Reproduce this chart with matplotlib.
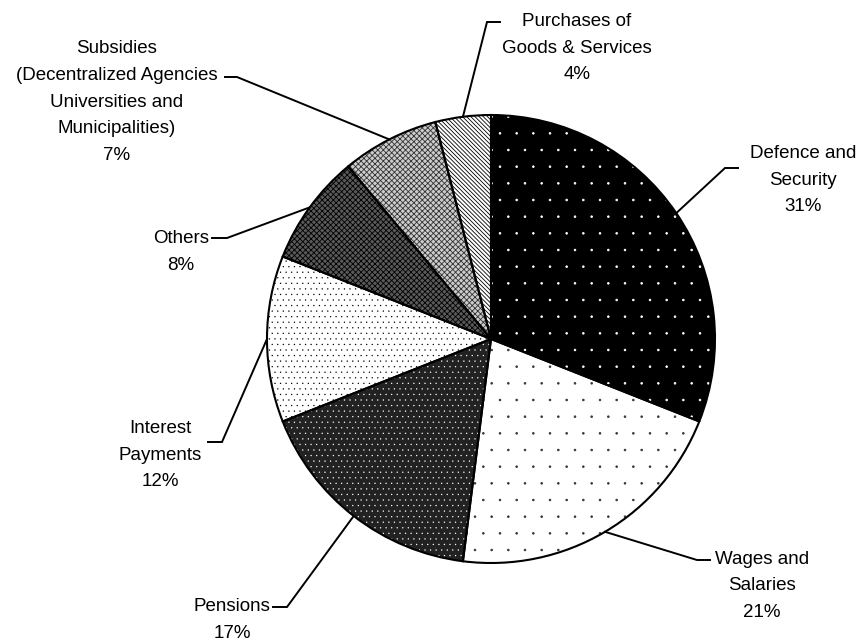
import numpy as np
import matplotlib
matplotlib.use("Agg")
import matplotlib.pyplot as plt
import matplotlib.hatch

# datos del grafico (porcentajes del gasto)
categorias = ["Defence and\nSecurity", "Wages and\nSalaries", "Pensions", "Interest\nPayments",
              "Others", "Subsidies\n(Decentralized Agencies\nUniversities and\nMunicipalities)",
              "Purchases of\nGoods & Services"]
valores = [31, 21, 17, 12, 8, 7, 4]

# estilos de relleno (imitando los patrones de Excel)
fondos = ["black", "white", "#222222", "white", "#5a5a5a", "#cccccc", "white"]
tramas = [".", ".", "...", "...", "xxxxxx", "xxxxxx", "\\" * 8]
color_trama = ["white", "#333333", "white", "black", "black", "#333333", "black"]

# posicion de etiquetas (pixeles, y hacia abajo): centro del texto, codo y fin de la guia
pos_texto = [(803, 180), (762, 586), (232, 620), (160, 455), (181, 252), (117, 102), (577, 48)]
codos = [(725, 168), (697, 560), (287, 607), (222, 442), (227, 238), (237, 77), (487, 22)]
fines = [(738, 168), (710, 560), (273, 607), (208, 442), (212, 238), (225, 77), (500, 22)]

W, H = 861, 644
cx, cy, r = 491, H - 339, 224

plt.rcParams['font.family'] = ['Liberation Sans', 'DejaVu Sans']
plt.rcParams['hatch.linewidth'] = 0.6
# puntos de la trama mas chicos, como en Excel
matplotlib.hatch.SmallFilledCircles.size = 0.05

fig = plt.figure(figsize=(W / 100, H / 100), dpi=100)
ax = fig.add_axes([0, 0, 1, 1])

# relleno con trama (el color de borde da el color de la trama)
cunas, _ = ax.pie(valores, startangle=90, counterclock=False, center=(cx, cy), radius=r,
                  colors=fondos, wedgeprops=dict(linewidth=0))
for c, t, ct in zip(cunas, tramas, color_trama):
    c.set_hatch(t)
    c.set_edgecolor(ct)

# contornos negros
ax.pie(valores, startangle=90, counterclock=False, center=(cx, cy), radius=r,
       wedgeprops=dict(fill=False, edgecolor='black', linewidth=1.5))

total = float(sum(valores))
acum = np.cumsum(valores)
for i, v in enumerate(valores):
    ang = np.deg2rad(90 - 360 * (acum[i] - v / 2.0) / total)
    px, py = cx + r * np.cos(ang), cy + r * np.sin(ang)
    ex, ey = codos[i]
    fx, fy = fines[i]
    ax.plot([px, ex, fx], [py, H - ey, H - fy], color='black', linewidth=1.4,
            solid_joinstyle='miter')
    tx, ty = pos_texto[i]
    ax.text(tx, H - ty, "%s\n%d%%" % (categorias[i], v), ha='center', va='center',
            multialignment='center', fontsize=13.5, linespacing=1.75)

ax.set_xlim(0, W)
ax.set_ylim(0, H)
ax.set_aspect('equal')
ax.axis('off')

fig.savefig("out.png", dpi=100)
